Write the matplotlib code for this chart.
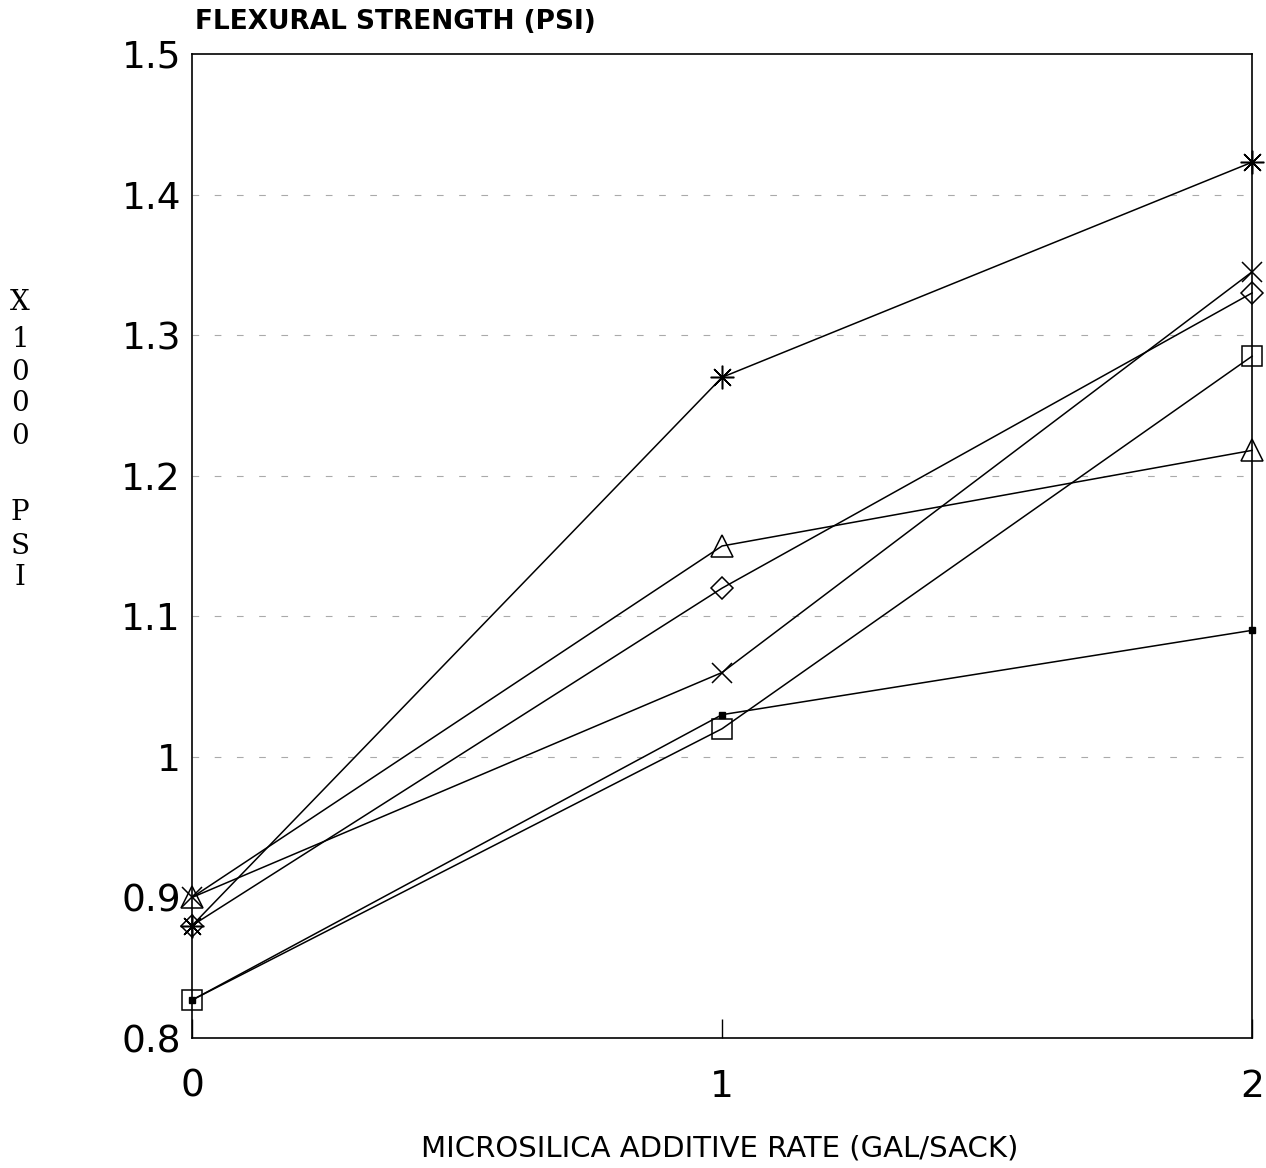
import matplotlib.pyplot as plt
import numpy as np

# microsilica additive rate (gal/sack)
rates = [0, 1, 2]

# flexural strength, x1000 psi
asterisk_vals = [0.88, 1.27, 1.423]
cross_vals = [0.90, 1.06, 1.345]
diamond_vals = [0.88, 1.12, 1.33]
triangle_vals = [0.90, 1.15, 1.218]
square_vals = [0.827, 1.02, 1.285]
dot_vals = [0.827, 1.03, 1.09]

grid_levels = [1.0, 1.1, 1.2, 1.3, 1.4]
ytick_vals = [0.8, 0.9, 1.0, 1.1, 1.2, 1.3, 1.4, 1.5]
ytick_labels = ['0.8', '0.9', '1', '1.1', '1.2', '1.3', '1.4', '1.5']

fig = plt.figure(figsize=(12.66, 11.68), dpi=100)
ax = fig.add_axes([0.1517, 0.1113, 0.8373, 0.8425])

for lvl in grid_levels:
    ax.axhline(lvl, color='#aaaaaa', lw=0.8, ls=(0, (6, 14)), zorder=0)

style = dict(color='black', lw=1.1, markerfacecolor='none',
             markeredgecolor='black', markeredgewidth=1.1, clip_on=False)
ax.plot(rates, asterisk_vals, marker=(8, 2, 0), markersize=17, **style)
ax.plot(rates, cross_vals, marker='x', markersize=15, **style)
ax.plot(rates, diamond_vals, marker='D', markersize=11, **style)
ax.plot(rates, triangle_vals, marker='^', markersize=16, **style)
ax.plot(rates, square_vals, marker='s', markersize=14, **style)
ax.plot(rates, dot_vals, color='black', lw=1.1, marker='s', markersize=4,
        markerfacecolor='black', clip_on=False)

ax.set_xlim(0, 2)
ax.set_ylim(0.8, 1.5)
ax.set_xticks(rates)
ax.set_xticklabels(['0', '1', '2'], fontsize=27)
ax.set_yticks(ytick_vals)
ax.set_yticklabels(ytick_labels, fontsize=27)
ax.tick_params(axis='x', direction='in', length=14, width=1, pad=22)
ax.tick_params(axis='y', length=0, pad=8)
for s in ax.spines.values():
    s.set_linewidth(1.2)

fig.text(720 / 1266, 1 - 1148 / 1168, 'MICROSILICA ADDITIVE RATE (GAL/SACK)',
         fontsize=21, ha='center', va='center')
fig.text(0.154, 0.981, 'FLEXURAL STRENGTH (PSI)', fontsize=19,
         fontweight='bold', ha='left', va='center')

# stacked y label
ylab = ['X', '1', '0', '0', '0', '', 'P', 'S', 'I']
ypix = [302, 340, 372, 404, 436, 0, 512, 546, 578]
for ch, yp in zip(ylab, ypix):
    if ch:
        fig.text(20 / 1266, 1 - yp / 1168, ch, fontsize=20,
                 family='DejaVu Serif', ha='center', va='center')

fig.savefig('out.png', dpi=100)
